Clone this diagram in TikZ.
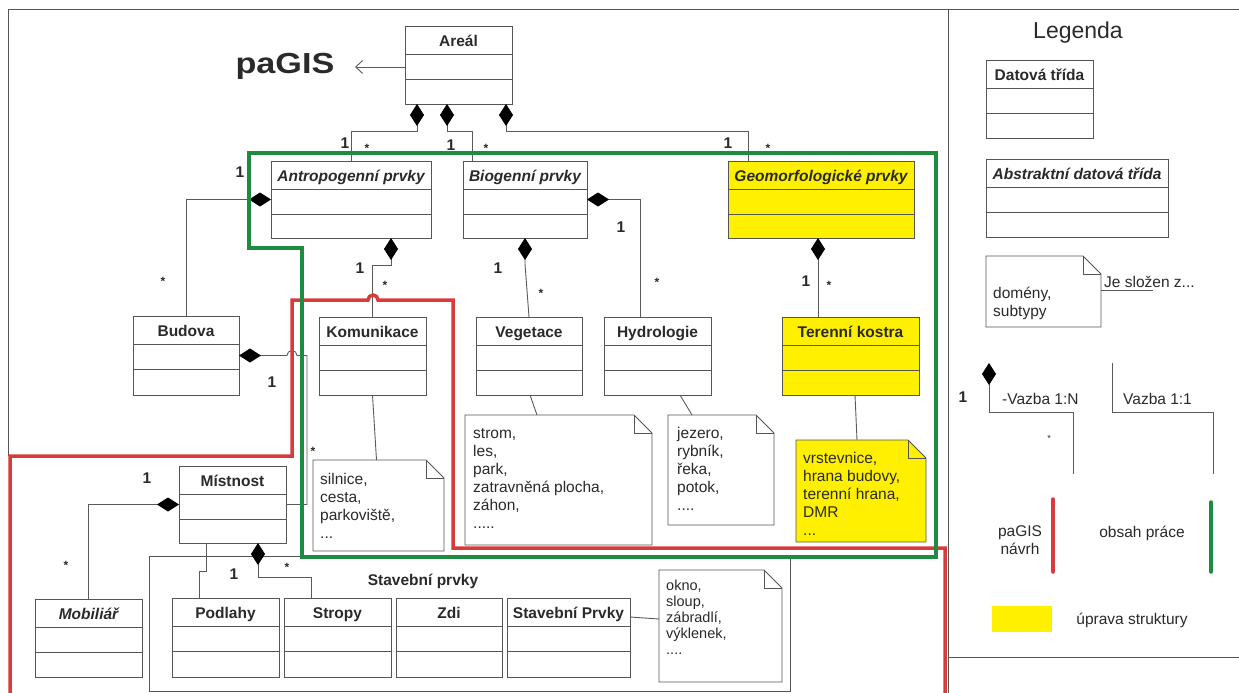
\documentclass[tikz,border=0pt]{standalone}
\usepackage{fontspec}
\setmainfont{Liberation Sans}
\usetikzlibrary{arrows.meta,calc}

\definecolor{ink}{HTML}{2A2A2A}
\definecolor{edge}{HTML}{555555}
\definecolor{wirec}{HTML}{5A5A5A}
\definecolor{frameline}{HTML}{555555}
\definecolor{proposal}{HTML}{D63C3C}
\definecolor{scope}{HTML}{1E8C40}
\definecolor{changed}{HTML}{FFF000}

\tikzset{
  classbox/.style={draw=edge, line width=0.9pt, fill=white, inner sep=0pt, outer sep=0pt},
  boxline/.style={draw=edge, line width=0.9pt},
  classtitle/.style={font=\bfseries\fontsize{15.5}{18}\selectfont, text=ink, anchor=base, inner sep=0pt},
  notebox/.style={inner sep=0pt, outer sep=0pt},
  noteline/.style={draw=edge, line width=0.9pt, fill=white},
  notetext/.style={font=\fontsize{15.5}{18}\selectfont, text=ink, align=left, anchor=north west, inner sep=0pt},
  wire/.style={draw=wirec, line width=0.9pt},
  comp/.style={wire, arrows={Diamond[length=22pt,width=14pt,color=black]-}},
  mult/.style={font=\bfseries\fontsize{15.5}{18}\selectfont, text=ink, inner sep=0pt},
  star/.style={font=\bfseries\fontsize{12}{14}\selectfont, text=ink, inner sep=0pt},
  border/.style={draw=frameline, line width=1pt},
  redzone/.style={draw=proposal, line width=3.5pt},
  greenzone/.style={draw=scope, line width=3.5pt},
  legtext/.style={font=\fontsize{15.5}{18}\selectfont, text=ink, inner sep=0pt},
}

% UML class: [box style]{name}{left}{top}{right}{bottom}{title}
\newcommand\umlclass[7][]{%
  \node[classbox,#1,minimum width={#5-#3},minimum height={#6-#4}] (#2) at ({(#3+#5)/2},{(#4+#6)/2}) {};
  \draw[boxline] ($(#2.north west)+(0,28)$) -- ($(#2.north east)+(0,28)$);
  \draw[boxline] ($(#2.north west)+(0,53)$) -- ($(#2.north east)+(0,53)$);
  \node[classtitle] (#2-t) at ($(#2.north)+(0,20.5)$) {#7};
}

% UML note with folded corner: [fill style]{name}{left}{top}{right}{bottom}
\newcommand\umlnote[6][]{%
  \node[notebox,minimum width={#5-#3},minimum height={#6-#4}] (#2) at ({(#3+#5)/2},{(#4+#6)/2}) {};
  \draw[noteline,#1] (#2.north west) -- ($(#2.north east)+(-18,0)$) -- ($(#2.north east)+(0,18)$)
     -- (#2.south east) -- (#2.south west) -- cycle;
  \draw[noteline,fill=none] ($(#2.north east)+(-18,0)$) |- ($(#2.north east)+(0,18)$);
}

\begin{document}
\begin{tikzpicture}[x=1pt,y=-1pt]
\useasboundingbox (0,0) rectangle (1239,693);
\fill[white] (0,0) rectangle (1239,693);

% outer frame and legend separator
\draw[border] (8,456) -- (8,10) -- (1239,10);
\draw[border] (948,10) -- (948,693);
\draw[border] (948,657) -- (1239,657);

% title
\node[font=\bfseries\fontsize{29}{30}\selectfont, text=ink, anchor=base, inner sep=0pt] (pagis) at (285,74) {\scalebox{1.18}[1]{paGIS}};
\coordinate (pagisarrow) at (355,67);

% package of building elements
\node[draw=edge, line width=0.9pt, inner sep=0pt, outer sep=0pt, minimum width=641, minimum height=135] (stavpkg) at (469.5,623.5) {};
\node[classtitle] (stavpkg-t) at (423,585.5) {Stavební prvky};

% classes
\umlclass{areal}{405}{26}{512}{104}{Areál}
\umlclass{antrop}{271}{161}{431}{238}{\itshape Antropogenní prvky}
\umlclass{biog}{463}{161}{587}{238}{\itshape Biogenní prvky}
\umlclass[fill=changed]{geomorf}{728}{161}{914}{238}{\itshape Geomorfologické prvky}
\umlclass{budova}{133}{316}{239}{395}{Budova}
\umlclass{komun}{319}{317}{426}{395}{Komunikace}
\umlclass{veget}{476}{317}{582}{395}{Vegetace}
\umlclass{hydro}{604}{317}{711}{395}{Hydrologie}
\umlclass[fill=changed]{teren}{782}{317}{919}{395}{Terenní kostra}
\umlclass{mistnost}{179}{466}{286}{543}{Místnost}
\umlclass{mobil}{35}{599}{142}{677}{\itshape Mobiliář}
\umlclass{podlahy}{172}{598}{279}{677}{Podlahy}
\umlclass{stropy}{284}{598}{391}{677}{Stropy}
\umlclass{zdi}{396}{598}{502}{677}{Zdi}
\umlclass{stavprvky}{507}{598}{630}{677}{Stavební Prvky}

% notes
\umlnote{knote}{313}{460}{444}{551}
\node[notetext] (knote-t) at (320,469.5) {\rule{0pt}{15pt}silnice,\\cesta,\\parkoviště,\\...};
\umlnote{vnote}{465}{415}{652}{545}
\node[notetext] (vnote-t) at (473,423.5) {\rule{0pt}{15pt}strom,\\les,\\park,\\zatravněná plocha,\\záhon,\\.....};
\umlnote{hnote}{668}{415}{774}{525}
\node[notetext] (hnote-t) at (677,423.5) {\rule{0pt}{15pt}jezero,\\rybník,\\řeka,\\potok,\\....};
\umlnote[fill=changed]{tnote}{796}{440}{926}{542}
\node[notetext] (tnote-t) at (803,448.5) {\rule{0pt}{15pt}vrstevnice,\\hrana budovy,\\terenní hrana,\\DMR\\...};
\umlnote{snote}{659}{570}{782}{682}
\node[notetext, font=\fontsize{14.5}{16}\selectfont] (snote-t) at (666,575) {\rule{0pt}{15pt}okno,\\sloup,\\zábradlí,\\výklenek,\\....};

% connectors
\draw[wire, arrows={-Straight Barb[length=7pt,width=13pt]}] (areal.west |- pagisarrow) -- (pagisarrow);
\draw[comp] ($(areal.south)+(-41.5,0)$) -- ++(0,27) -| (antrop.north);
\draw[comp] ($(areal.south)+(-11.5,0)$) -- ++(0,27) -| ($(biog.north)+(-53,0)$);
\draw[comp] ($(areal.south)+(47.5,0)$) -- ++(0,27) -| ($(geomorf.north)+(-73,0)$);
\draw[comp] (antrop.west) -| (budova.north);
\draw[comp] ($(antrop.south)+(40,0)$) -- ++(0,27) -| (komun.north);
\draw[comp] (biog.south) -- ++(0,26) -- (veget.north);
\draw[comp] (biog.east) -| ($(hydro.north)+(-17.5,0)$);
\draw[comp] ($(geomorf.south)+(-3,0)$) -- ($(teren.north)+(-32.5,0)$);
\draw[comp] (budova.east) -- ++(48,0) arc[start angle=180,end angle=360,radius=5] -- ++(10,0) |- (mistnost.east);
\draw[comp] (mistnost.west) -| (mobil.north);
\draw[comp] ($(mistnost.south)+(25.5,0)$) -- ++(0,34) -| ($(stropy.north)+(-26.5,0)$);
\draw[wire] ($(mistnost.south)+(-26.5,0)$) -- ++(0,28) -| ($(podlahy.north)+(-26.5,0)$);
\draw[wire] (komun.south) -- ($(knote.north)+(-2,0)$);
\draw[wire] ($(veget.south)+(1,0)$) -- ($(vnote.north)+(-21.5,0)$);
\draw[wire] ($(hydro.south)+(22.5,0)$) -- ($(hnote.north)+(-29,0)$);
\draw[wire] ($(teren.south)+(4.5,0)$) -- ($(tnote.north)+(-4,0)$);
\draw[wire] ($(stavprvky.north east)+(0,19)$) -- ($(snote.north west)+(0,49)$);

% multiplicities
\node[mult] (m1) at (345,143) {1};
\node[star] (s1) at (367,148.5) {*};
\node[mult] (m2) at (451,145) {1};
\node[star] (s2) at (486,148.5) {*};
\node[mult] (m3) at (728,143) {1};
\node[star] (s3) at (768,148.5) {*};
\node[mult] (m4) at (240,172) {1};
\node[star] (s4) at (163,281.5) {*};
\node[mult] (m5) at (272,382) {1};
\node[star] (s5) at (313,451.5) {*};
\node[mult] (m6) at (360,268) {1};
\node[star] (s6) at (385,285.5) {*};
\node[mult] (m7) at (498,268) {1};
\node[star] (s7) at (541,293.5) {*};
\node[mult] (m8) at (621,227) {1};
\node[star] (s8) at (657,282.5) {*};
\node[mult] (m9) at (806,281) {1};
\node[star] (s9) at (829,285.5) {*};
\node[mult] (m10) at (147,478) {1};
\node[star] (s10) at (66,565.5) {*};
\node[mult] (m11) at (234,574) {1};
\node[star] (s11) at (287,567.5) {*};

% highlighted regions
\draw[redzone] (10,693) -- (10,456) -- (292,456) -- (292,300) -- (368,300)
   arc[start angle=180,end angle=360,radius=5] -- (453,300) -- (453,548) -- (945,548) -- (945,693);
\draw[greenzone] (249,153) -- (936,153) -- (936,557) -- (302,557) -- (302,248) -- (249,248) -- cycle;

% legend
\node[legtext, font=\fontsize{23}{26}\selectfont] (legtitle) at (1078,33) {Legenda};
\umlclass{legclass}{986}{60}{1093}{138}{Datová třída}
\umlclass{legabstract}{986}{159}{1168}{237}{\itshape Abstraktní datová třída}
\umlnote{lnote}{986}{256}{1101}{327}
\node[notetext] (lnote-t) at (993,283.5) {\rule{0pt}{15pt}domény,\\subtypy};
\draw[wire] ($(lnote.north east)+(0,34)$) -- ++(52,0);
\node[legtext, anchor=base west] (legcomposed) at (1104,287) {Je složen z...};

\coordinate (legA) at (989,363);
\coordinate (legAend) at (1073,474);
\draw[comp] (legA) -- ++(0,49) -| (legAend);
\node[mult] (legm) at (963,397) {1};
\node[star, font=\fontsize{9}{10}\selectfont] (legs) at (1049,438) {*};
\node[legtext, anchor=base west] (leg1n) at (1002,404.5) {-Vazba 1:N};

\coordinate (legB) at (1112,363);
\coordinate (legBend) at (1213,474);
\draw[wire] (legB) -- ++(0,49) -| (legBend);
\node[legtext, anchor=base west] (leg11) at (1123,404.5) {Vazba 1:1};

\draw[draw=proposal, line width=3.5pt, line cap=round] (1053,499) -- (1053,572);
\node[legtext, align=center] (legred) at (1020,540) {paGIS\\návrh};
\draw[draw=scope, line width=3.5pt, line cap=round] (1211,502) -- (1211,572);
\node[legtext] (leggreen) at (1142,533) {obsah práce};
\fill[changed] (992,606) rectangle (1052,632);
\node[legtext] (legyellow) at (1132,620) {úprava struktury};
\end{tikzpicture}
\end{document}
